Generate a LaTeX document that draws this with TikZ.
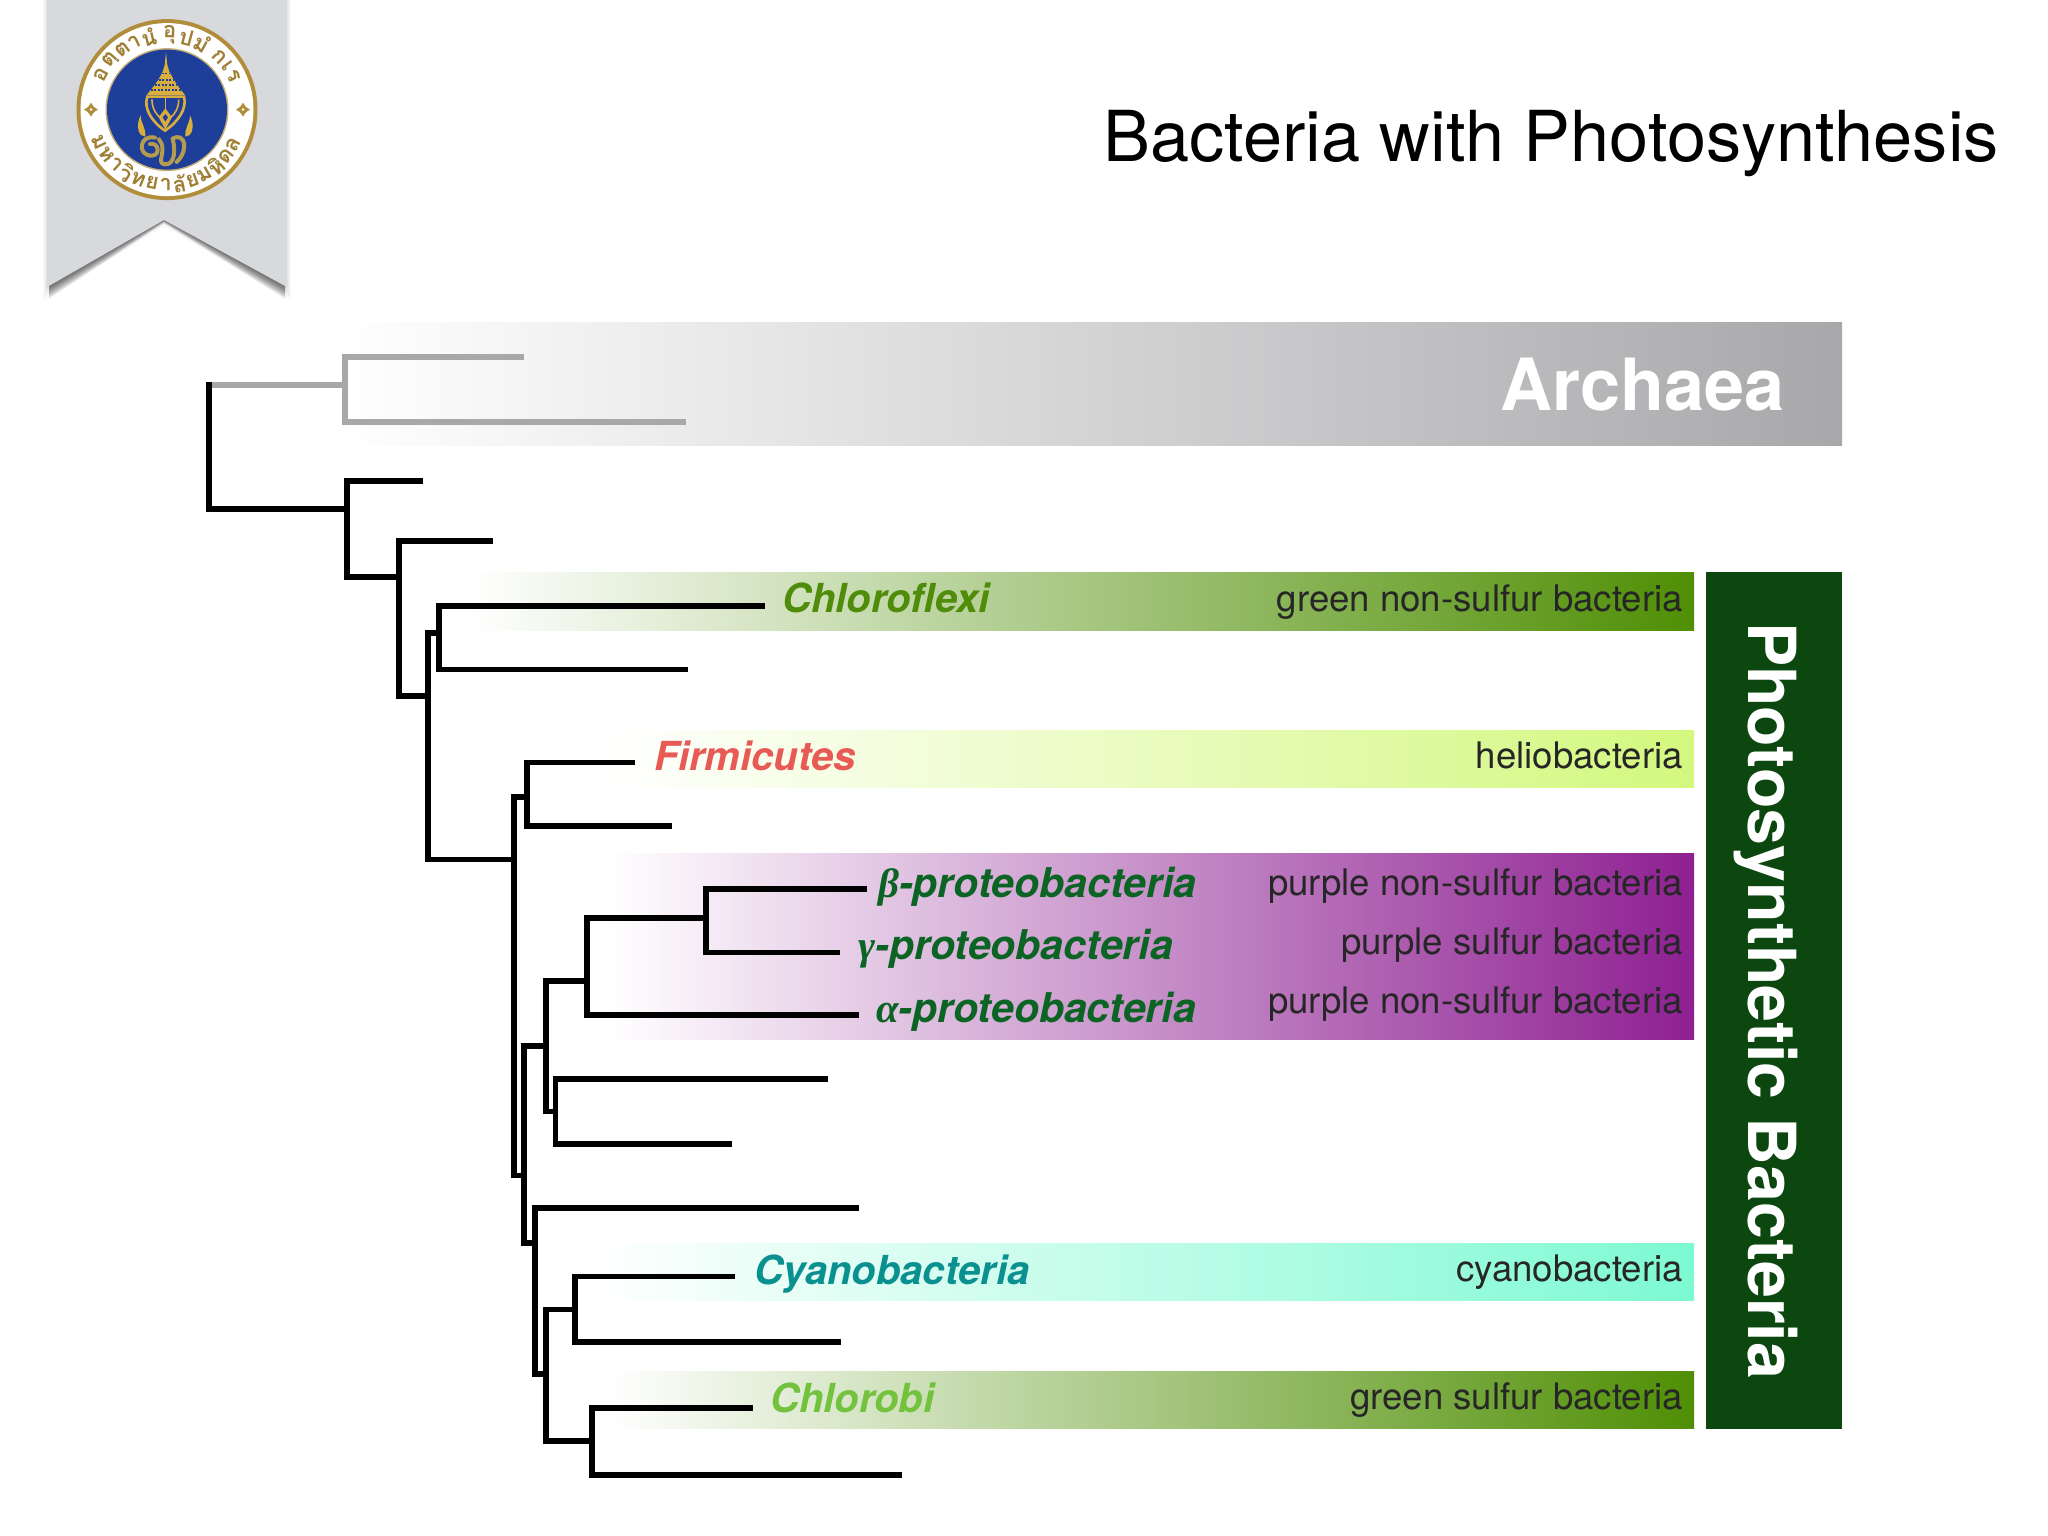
\documentclass[tikz,border=0pt]{standalone}
\usepackage{fontspec}
\setmainfont{TeX Gyre Heros}
\newfontfamily\grk{Liberation Serif}
\newfontfamily\thaifont[Script=Thai]{Loma}
\definecolor{bandgreen}{HTML}{4F8F05}
\definecolor{bandhelio}{HTML}{D3F87E}
\definecolor{bandpurple}{HTML}{8E2092}
\definecolor{bandcyan}{HTML}{7DFAD2}
\definecolor{bandgrey}{HTML}{A8A8AB}
\definecolor{boxgreen}{HTML}{0B470F}
\definecolor{treegrey}{HTML}{A8A8A8}
\definecolor{lblgreen}{HTML}{4E8C0A}
\definecolor{lblred}{HTML}{E85A55}
\definecolor{lblprot}{HTML}{0C6424}
\definecolor{lblcyan}{HTML}{0B9090}
\definecolor{lbllime}{HTML}{72C23E}
\definecolor{ribbon}{HTML}{D8D9DC}
\definecolor{sealblue}{HTML}{1D3F9A}
\definecolor{sealgold}{HTML}{B08D3A}
\definecolor{crest}{HTML}{D9AE3C}
\definecolor{crestloop}{HTML}{B39C50}
\tikzset{
  treeline/.style={draw=black,line width=5.6pt,line join=miter},
  greyline/.style={draw=treegrey,line width=6pt,line join=miter},
  kind/.style={inner sep=0pt,anchor=base east,text=black!85,font=\fontsize{36.6}{40}\selectfont},
  taxon/.style={inner sep=0pt,anchor=base west,font=\fontsize{40}{44}\selectfont\bfseries\itshape},
  proteo/.style={taxon,text=lblprot,font=\fontsize{41}{44}\selectfont\bfseries\itshape},
  sealtext/.style={inner sep=0pt,text=sealgold!90!black,font=\thaifont\bfseries\fontsize{22}{25}\selectfont},
  crestline/.style={draw=crest,line width=1.6pt},
  loopline/.style={draw=crestloop,line width=4pt,line cap=round},
}
\newcommand{\clade}[3]{\draw[treeline] (#2) -- (#2 -| #1) -- (#3 -| #1) -- (#3);}
\newcommand{\greek}[1]{{\grk\bfseries\itshape #1}}
\begin{document}
\begin{tikzpicture}[x=1pt,y=-1pt]
\useasboundingbox (0,0) rectangle (2048,1536);
% ribbon shadow
\foreach \k in {1,...,14}{
  \fill[black,opacity=.006] ({47-\k*.3},0) -- ({287+\k*.3},0) -- ({287+\k*.3},{287+\k}) -- (164,{220+.5*\k}) -- ({47-\k*.3},{287+\k}) -- cycle;
}
\foreach \k in {1,...,12}{
  \fill[black,opacity=.05] (49,0) -- (285,0) -- (285,{287+\k}) -- (164,{220+.25*\k}) -- (49,{287+\k}) -- cycle;
}
\fill[ribbon] (47,0) -- (287,0) -- (287,287) -- (164,220) -- (47,287) -- cycle;
% seal
\fill[sealgold] (167,109.6) circle (90.5);
\fill[white] (167,109.6) circle (86.5);
\fill[sealgold!70!white] (167,109.6) circle (61.5);
\fill[sealblue] (167,109.6) circle (60);
\begin{scope}[shift={(167,109.6)},x=1pt,y=1pt]
  \foreach \a/\t [count=\i] in {152/อ,139/ตฺ,126/ต,116/า,104/นํ,88/อุ,75/ป,62/มํ,45/ก,36/เ,27/ร}{
    \node[sealtext,rotate=\a-90] (top\i) at (\a:75) {\t};
  }
  \foreach \a/\t [count=\i] in {206/ม,216.5/ห,227/า,237.5/วิ,248/ท,258.5/ย,269/า,279.5/ลั,290/ย,300.5/ม,311/หิ,321.5/ด,332/ล}{
    \node[sealtext,rotate=\a+90] (bot\i) at (\a:75) {\t};
  }
  \foreach \c in {-76,76}{
    \begin{scope}[shift={(\c,0)}]
    \fill[sealgold] (0,7) .. controls (2.6,2.6) .. (7,0) .. controls (2.6,-2.6) .. (0,-7) .. controls (-2.6,-2.6) .. (-7,0) .. controls (-2.6,2.6) .. (0,7) -- cycle;
    \fill[white] (0,0) circle (1.4);
    \end{scope}
  }
\end{scope}
\begin{scope}[shift={(110,40)},x=.3333pt,y=-.3333pt]
  \fill[crest] (168,37) -- (172,75) -- (178,95) -- (192,120) -- (205,140) -- (225,165) -- (110,165) -- (130,140) -- (145,120) -- (158,95) -- (164,75) -- cycle;
  \foreach \yy/\xa/\xb in {100/156/180,120/146/190,135/134/200,150/122/212}{
    \draw[sealblue,line width=1.2pt,dash pattern=on 2pt off 1.5pt] (\xa,\yy) -- (\xb,\yy);
  }
  \draw[crestline,line width=2.6pt] (112,170) .. controls (100,205) and (125,245) .. (165,272) .. controls (205,245) and (232,205) .. (222,170) -- cycle;
  \draw[crestline] (126,178) .. controls (125,205) and (140,225) .. (150,232);
  \draw[crestline] (206,178) .. controls (207,205) and (192,225) .. (182,232);
  \draw[crestline] (166,170) -- (166,215);
  \fill[crest] (166,205) -- (186,232) -- (166,268) -- (146,232) -- cycle;
  \fill[sealblue] (166,222) -- (174,232) -- (166,245) -- (158,232) -- cycle;
  \fill[crest] (92,226) .. controls (92,250) and (108,262) .. (106,290) -- (93,285) .. controls (82,275) and (80,250) .. (92,226) -- cycle;
  \fill[crest] (240,226) .. controls (240,250) and (224,262) .. (226,290) -- (239,285) .. controls (250,275) and (252,250) .. (240,226) -- cycle;
  \draw[loopline] (135,293) .. controls (88,282) and (80,347) .. (125,347) .. controls (152,347) and (147,306) .. (120,312);
  \draw[loopline] (147,298) .. controls (175,330) and (135,370) .. (165,373) .. controls (195,375) and (197,330) .. (188,296);
  \draw[loopline] (188,296) .. controls (225,275) and (238,330) .. (200,366);
\end{scope}
% title
\node[inner sep=0pt,anchor=base east,font=\fontsize{70.3}{76}\selectfont] (title) at (1999,161) {Bacteria with Photosynthesis};
% bands
\shade[left color=white,right color=bandgrey] (340,322.6) rectangle (1842,445.6);
\shade[left color=white,right color=bandgreen] (470,572) rectangle (1694,630);
\shade[left color=white,right color=bandhelio] (600,730) rectangle (1694,787.5);
\shade[left color=white,right color=bandpurple] (610,853) rectangle (1694,1039.5);
\shade[left color=white,right color=bandcyan] (590,1243) rectangle (1694,1300);
\shade[left color=white,right color=bandgreen] (610,1371) rectangle (1694,1428);
\fill[boxgreen] (1706,572) rectangle (1842,1429);
% tree coordinates
\coordinate (r) at (209,509);
\coordinate (A) at (345,384.7);
\coordinate (a1) at (524,357);
\coordinate (a2) at (685.5,421.6);
\coordinate (n1) at (347,509);
\coordinate (t1) at (423,481);
\coordinate (n2) at (399,577);
\coordinate (t2) at (493,541);
\coordinate (n3) at (428,696);
\coordinate (n4) at (439,633);
\coordinate (t3) at (764.5,606);
\coordinate (t4) at (688,669.6);
\coordinate (n5) at (514,859.5);
\coordinate (n6) at (527,797);
\coordinate (t5) at (634.6,762.6);
\coordinate (t6) at (672,826);
\coordinate (n7) at (524,1175.5);
\coordinate (n8) at (546,1046);
\coordinate (n9) at (535,1243);
\coordinate (n10) at (587,981);
\coordinate (n11) at (555.5,1111.5);
\coordinate (n12) at (706,918);
\coordinate (t7) at (859,1014.7);
\coordinate (t8) at (866.6,889);
\coordinate (t9) at (839.5,952.4);
\coordinate (t10) at (827.5,1079);
\coordinate (t11) at (731.5,1144);
\coordinate (t12) at (858.8,1208);
\coordinate (n13) at (546,1374);
\coordinate (n14) at (575,1309.4);
\coordinate (n15) at (592,1441);
\coordinate (t13) at (735,1276.6);
\coordinate (t14) at (841.4,1342);
\coordinate (t15) at (753,1408);
\coordinate (t16) at (901.5,1475);
% tree
\draw[greyline] (A -| r) -- (A);
\draw[greyline] (a1) -- (a1 -| A) -- (a2 -| A) -- (a2);
\draw[treeline] (209,381.5) -- (n1 -| r) -- (n1);
\clade{n1}{t1}{n2}
\clade{n2}{t2}{n3}
\clade{n3}{n4}{n5}
\clade{n4}{t3}{t4}
\clade{n5}{n6}{n7}
\clade{n6}{t5}{t6}
\clade{n7}{n8}{n9}
\clade{n8}{n10}{n11}
\clade{n10}{n12}{t7}
\clade{n12}{t8}{t9}
\clade{n11}{t10}{t11}
\clade{n9}{t12}{n13}
\clade{n13}{n14}{n15}
\clade{n14}{t13}{t14}
\clade{n15}{t15}{t16}
% labels
\node[inner sep=0pt,anchor=base east,text=white,font=\fontsize{72}{76}\selectfont\bfseries] (archaea) at (1785,410.5) {Archaea};
\node[inner sep=0pt,anchor=base west,rotate=-90,text=white,font=\fontsize{66.3}{70}\selectfont\bfseries] (photo) at (1748.6,622) {Photosynthetic Bacteria};
\node[taxon,text=lblgreen] (chloroflexi) at (782,612.5) {Chloroflexi};
\node[taxon,text=lblred] (firmicutes) at (654,770.5) {Firmicutes};
\node[proteo] (beta) at (878,897) {\greek{β}-proteobacteria};
\node[proteo] (gamma) at (858.5,959) {\greek{γ}-proteobacteria};
\node[proteo] (alpha) at (876,1022.5) {\greek{α}-proteobacteria};
\node[taxon,text=lblcyan] (cyano) at (754.5,1284.5) {Cyanobacteria};
\node[taxon,text=lbllime] (chlorobi) at (770,1412) {Chlorobi};
\node[kind] (k1) at (1683,611) {green non-sulfur bacteria};
\node[kind] (k2) at (1683,768) {heliobacteria};
\node[kind] (k3) at (1683,895) {purple non-sulfur bacteria};
\node[kind] (k4) at (1683,954) {purple sulfur bacteria};
\node[kind] (k5) at (1683,1013) {purple non-sulfur bacteria};
\node[kind] (k6) at (1683,1281) {cyanobacteria};
\node[kind] (k7) at (1683,1409.5) {green sulfur bacteria};
\end{tikzpicture}
\end{document}
